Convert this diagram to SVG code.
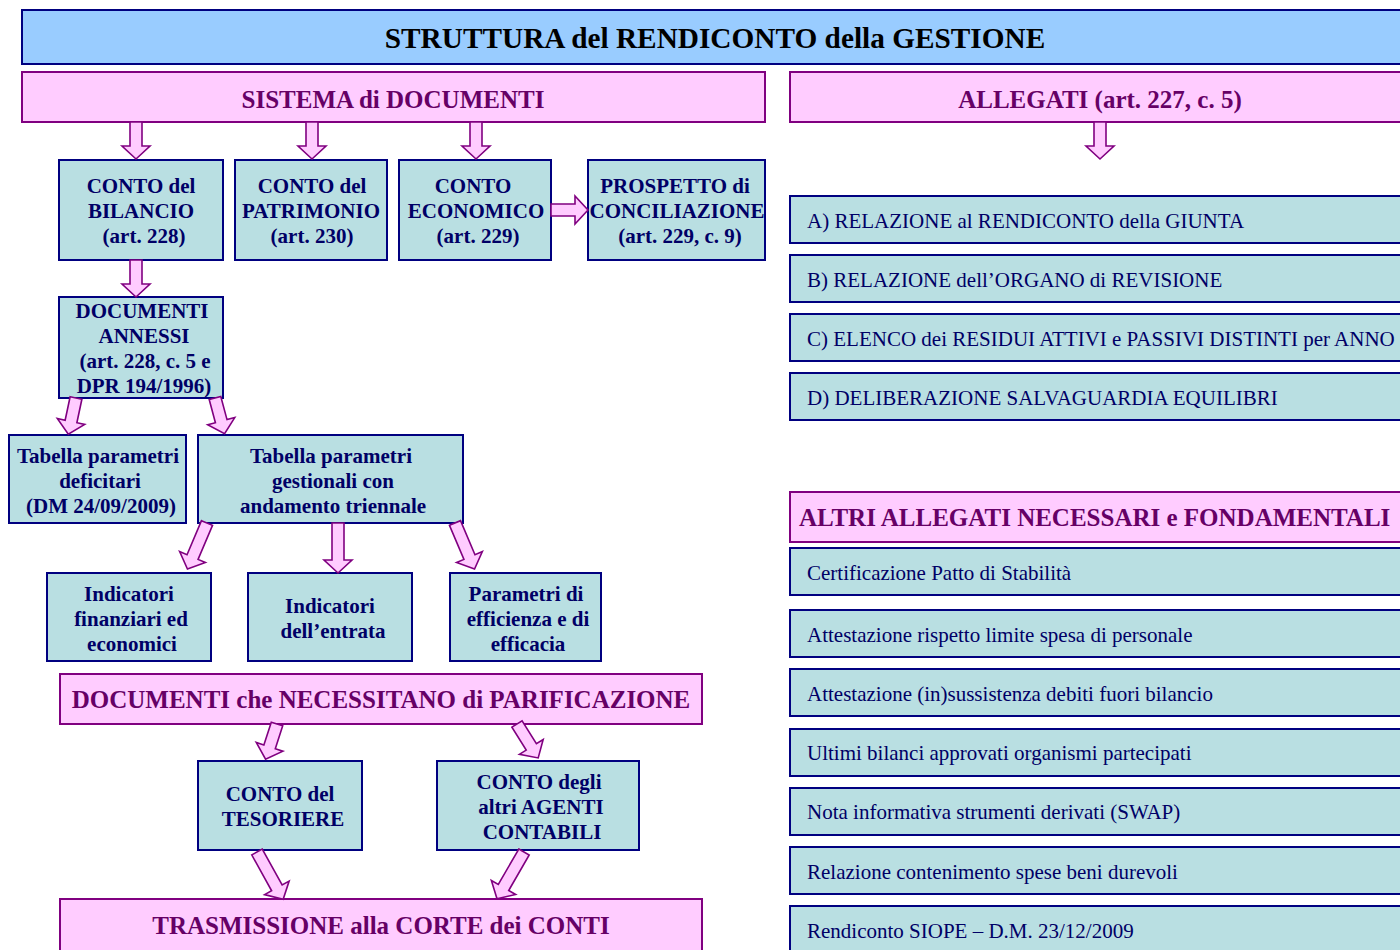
<svg xmlns="http://www.w3.org/2000/svg" xmlns:xlink="http://www.w3.org/1999/xlink" width="1400" height="950" viewBox="0 0 1400 950">
<defs>
<style>
.title{fill:#99CCFF;stroke:#000080;stroke-width:2}
.pink{fill:#FFCCFF;stroke:#800080;stroke-width:2}
.teal{fill:#B9DFE2;stroke:#000080;stroke-width:2}
.arr{fill:#FFCCFF;stroke:#800080;stroke-width:1.6;stroke-linejoin:miter}
text{font-family:"Liberation Serif","Times New Roman",serif}
.tt{font-size:29.3px;font-weight:bold;fill:#000000;text-anchor:middle}
.ph{font-size:25px;font-weight:bold;fill:#660066;text-anchor:middle}
.bx{font-size:21px;font-weight:bold;fill:#000066;text-anchor:middle}
.li{font-size:21px;fill:#000066}
</style>
<path id="a37" d="M-6,0 H6 V24 H14 L0,37 L-14,24 H-6 Z"/>
<path id="a40" d="M-6,0 H6 V27 H14 L0,40 L-14,27 H-6 Z"/>
<path id="a50" d="M-6,0 H6 V37 H14 L0,50 L-14,37 H-6 Z"/>
<path id="a54" d="M-6,0 H6 V41 H14 L0,54 L-14,41 H-6 Z"/>
</defs>
<rect width="1400" height="950" fill="#FFFFFF"/>

<g id="title"><rect class="title" x="22" y="10" width="1400" height="54"/><text class="tt" x="715" y="48">STRUTTURA del RENDICONTO della GESTIONE</text></g>

<g id="sistema"><rect class="pink" x="22" y="72" width="743" height="50"/><text class="ph" x="393" y="108">SISTEMA di DOCUMENTI</text></g>
<g id="allegati"><rect class="pink" x="790" y="72" width="630" height="50"/><text class="ph" x="1100" y="108">ALLEGATI (art. 227, c. 5)</text></g>

<g id="conto-bilancio"><rect class="teal" x="59" y="160" width="164" height="100"/><text class="bx" x="141" y="193">CONTO del</text><text class="bx" x="141" y="218">BILANCIO</text><text class="bx" x="144" y="243">(art. 228)</text></g>
<g id="conto-patrimonio"><rect class="teal" x="235" y="160" width="152" height="100"/><text class="bx" x="312" y="193">CONTO del</text><text class="bx" x="311" y="218">PATRIMONIO</text><text class="bx" x="312" y="243">(art. 230)</text></g>
<g id="conto-economico"><rect class="teal" x="399" y="160" width="152" height="100"/><text class="bx" x="473" y="193">CONTO</text><text class="bx" x="476" y="218">ECONOMICO</text><text class="bx" x="478" y="243">(art. 229)</text></g>
<g id="prospetto"><rect class="teal" x="588" y="160" width="177" height="100"/><text class="bx" x="675" y="193">PROSPETTO di</text><text class="bx" x="677" y="218">CONCILIAZIONE</text><text class="bx" x="680" y="243">(art. 229, c. 9)</text></g>

<g id="documenti-annessi"><rect class="teal" x="59" y="297" width="164" height="101"/><text class="bx" x="142" y="318">DOCUMENTI</text><text class="bx" x="144" y="343">ANNESSI</text><text class="bx" x="145" y="368">(art. 228, c. 5 e</text><text class="bx" x="144" y="393">DPR 194/1996)</text></g>

<g id="tabella-deficitari"><rect class="teal" x="9" y="435" width="177" height="88"/><text class="bx" x="98" y="463">Tabella parametri</text><text class="bx" x="100" y="488">deficitari</text><text class="bx" x="101" y="513">(DM 24/09/2009)</text></g>
<g id="tabella-gestionali"><rect class="teal" x="198" y="435" width="265" height="88"/><text class="bx" x="331" y="463">Tabella parametri</text><text class="bx" x="333" y="488">gestionali con</text><text class="bx" x="333" y="513">andamento triennale</text></g>

<g id="indicatori-finanziari"><rect class="teal" x="47" y="573" width="164" height="88"/><text class="bx" x="129" y="601">Indicatori</text><text class="bx" x="131" y="626">finanziari ed</text><text class="bx" x="132" y="651">economici</text></g>
<g id="indicatori-entrata"><rect class="teal" x="248" y="573" width="164" height="88"/><text class="bx" x="330" y="613">Indicatori</text><text class="bx" x="333" y="638">dell’entrata</text></g>
<g id="parametri-efficienza"><rect class="teal" x="450" y="573" width="151" height="88"/><text class="bx" x="526" y="601">Parametri di</text><text class="bx" x="528" y="626">efficienza e di</text><text class="bx" x="528" y="651">efficacia</text></g>

<g id="documenti-parificazione"><rect class="pink" x="60" y="674" width="642" height="50"/><text class="ph" x="381" y="708">DOCUMENTI che NECESSITANO di PARIFICAZIONE</text></g>

<g id="conto-tesoriere"><rect class="teal" x="198" y="761" width="164" height="89"/><text class="bx" x="280" y="801">CONTO del</text><text class="bx" x="283" y="826">TESORIERE</text></g>
<g id="conto-agenti"><rect class="teal" x="437" y="761" width="202" height="89"/><text class="bx" x="539" y="789">CONTO degli</text><text class="bx" x="541" y="814">altri AGENTI</text><text class="bx" x="542" y="839">CONTABILI</text></g>

<g id="trasmissione"><rect class="pink" x="60" y="899" width="642" height="60"/><text class="ph" x="381" y="934">TRASMISSIONE alla CORTE dei CONTI</text></g>

<g id="allegato-a"><rect class="teal" x="790" y="196" width="630" height="47"/><text class="li" x="807" y="228">A) RELAZIONE al RENDICONTO della GIUNTA</text></g>
<g id="allegato-b"><rect class="teal" x="790" y="255" width="630" height="47"/><text class="li" x="807" y="287">B) RELAZIONE dell’ORGANO di REVISIONE</text></g>
<g id="allegato-c"><rect class="teal" x="790" y="314" width="630" height="47"/><text class="li" x="807" y="346">C) ELENCO dei RESIDUI ATTIVI e PASSIVI DISTINTI per ANNO</text></g>
<g id="allegato-d"><rect class="teal" x="790" y="373" width="630" height="47"/><text class="li" x="807" y="405">D) DELIBERAZIONE SALVAGUARDIA EQUILIBRI</text></g>

<g id="altri-allegati"><rect class="pink" x="790" y="492" width="630" height="50"/><text class="ph" x="799" y="526" style="text-anchor:start">ALTRI ALLEGATI NECESSARI e FONDAMENTALI</text></g>
<g id="certificazione"><rect class="teal" x="790" y="548" width="630" height="47"/><text class="li" x="807" y="580">Certificazione Patto di Stabilità</text></g>
<g id="attestazione-personale"><rect class="teal" x="790" y="610" width="630" height="47"/><text class="li" x="807" y="642">Attestazione rispetto limite spesa di personale</text></g>
<g id="attestazione-debiti"><rect class="teal" x="790" y="669" width="630" height="47"/><text class="li" x="807" y="701">Attestazione (in)sussistenza debiti fuori bilancio</text></g>
<g id="ultimi-bilanci"><rect class="teal" x="790" y="729" width="630" height="47"/><text class="li" x="807" y="760">Ultimi bilanci approvati organismi partecipati</text></g>
<g id="nota-swap"><rect class="teal" x="790" y="788" width="630" height="47"/><text class="li" x="807" y="819">Nota informativa strumenti derivati (SWAP)</text></g>
<g id="relazione-beni"><rect class="teal" x="790" y="847" width="630" height="47"/><text class="li" x="807" y="879">Relazione contenimento spese beni durevoli</text></g>
<g id="siope"><rect class="teal" x="790" y="906" width="630" height="60"/><text class="li" x="807" y="938">Rendiconto SIOPE – D.M. 23/12/2009</text></g>

<g id="connectors">
<use href="#a37" class="arr" transform="translate(136,122)"/>
<use href="#a37" class="arr" transform="translate(312,122)"/>
<use href="#a37" class="arr" transform="translate(476,122)"/>
<use href="#a37" class="arr" transform="translate(1100,122)"/>
<use href="#a37" class="arr" transform="translate(551,210) rotate(-90)"/>
<use href="#a37" class="arr" transform="translate(136,260)"/>
<use href="#a37" class="arr" transform="translate(76,398) rotate(12)"/>
<use href="#a37" class="arr" transform="translate(215,398) rotate(-15)"/>
<use href="#a50" class="arr" transform="translate(207,523) rotate(23)"/>
<use href="#a50" class="arr" transform="translate(338,523)"/>
<use href="#a50" class="arr" transform="translate(455,523) rotate(-23)"/>
<use href="#a37" class="arr" transform="translate(277,724) rotate(18)"/>
<use href="#a40" class="arr" transform="translate(517,724) rotate(-32)"/>
<use href="#a54" class="arr" transform="translate(257,852) rotate(-29)"/>
<use href="#a54" class="arr" transform="translate(524,852) rotate(30)"/>
</g>
</svg>
